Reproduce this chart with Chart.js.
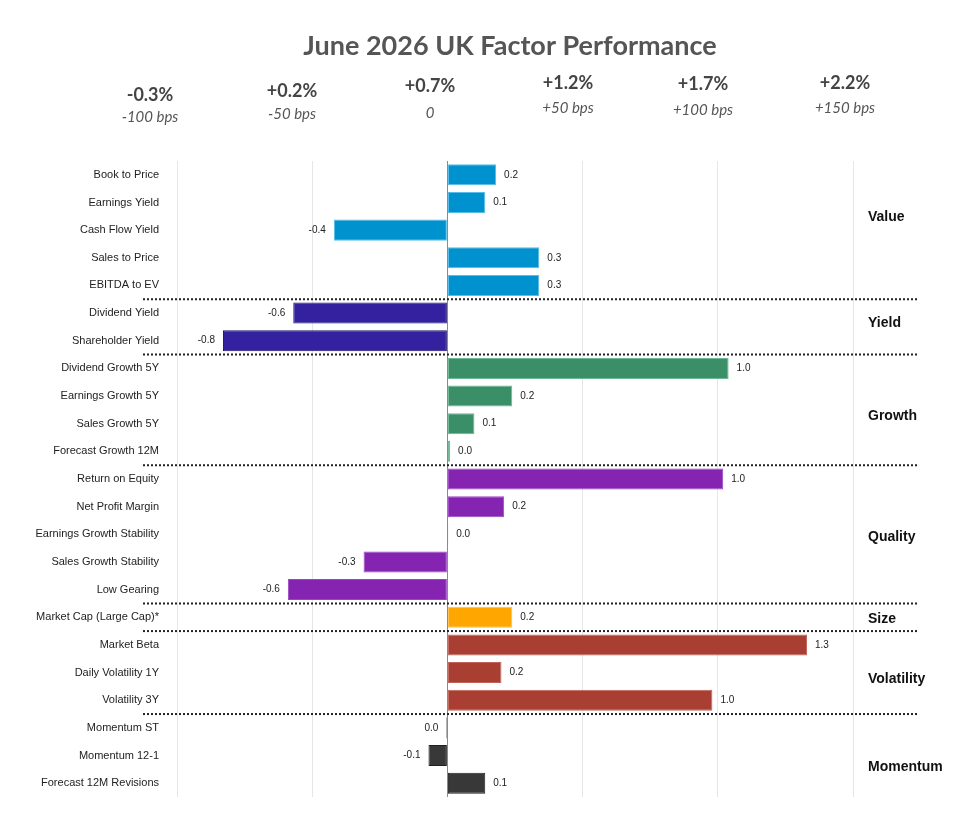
<!DOCTYPE html>
<html>
<head>
<meta charset="utf-8">
<script src="https://cdn.jsdelivr.net/npm/chart.js@4/dist/chart.umd.min.js"></script>
<style>
  html, body { margin: 0; padding: 0; background: #fff; }
  #wrap { width: 980px; height: 830px; position: relative; }
</style>
</head>
<body>
<div id="wrap"><canvas id="factorChart"></canvas></div>
<script>
// Data
const categories = [
  "Book to Price", "Earnings Yield", "Cash Flow Yield", "Sales to Price", "EBITDA to EV",
  "Dividend Yield", "Shareholder Yield",
  "Dividend Growth 5Y", "Earnings Growth 5Y", "Sales Growth 5Y", "Forecast Growth 12M",
  "Return on Equity", "Net Profit Margin", "Earnings Growth Stability", "Sales Growth Stability", "Low Gearing",
  "Market Cap (Large Cap)*",
  "Market Beta", "Daily Volatility 1Y", "Volatility 3Y",
  "Momentum ST", "Momentum 12-1", "Forecast 12M Revisions"
];
const values = [
  0.18, 0.14, -0.42, 0.34, 0.34,
  -0.57, -0.83,
  1.04, 0.24, 0.10, 0.01,
  1.02, 0.21, 0.003, -0.31, -0.59,
  0.24,
  1.33, 0.20, 0.98,
  -0.004, -0.07, 0.14
];
const groupNames = ["Value", "Yield", "Growth", "Quality", "Size", "Volatility", "Momentum"];
const groupSizes = [5, 2, 4, 5, 1, 3, 3];
const groupColors = ["#0092CE", "#3321A0", "#3A8F68", "#8424B0", "#FFA600", "#A93F32", "#383838"];
const groupBorders = ["#55BDE6", "#1E1270", "#6FB795", "#9A45C4", "#FFC04D", "#C0645A", "#202020"];
const xTicks = [-1, -0.5, 0, 0.5, 1, 1.5];
const headerPct = ["-0.3%", "+0.2%", "+0.7%", "+1.2%", "+1.7%", "+2.2%"];
const headerBps = ["-100 bps", "-50 bps", "0", "+50 bps", "+100 bps", "+150 bps"];

// per-bar colours from groups
const barColors = [];
const barBorders = [];
groupSizes.forEach(function (n, g) {
  for (let i = 0; i < n; i++) {
    barColors.push(groupColors[g]);
    barBorders.push(groupBorders[g]);
  }
});

function fmt(v) {
  if (Math.abs(v) < 0.05) return "0.0";
  return v.toFixed(1);
}

// title + header labels
const headerPlugin = {
  id: "header",
  afterDraw: function (chart) {
    const ctx = chart.ctx;
    ctx.save();
    ctx.fillStyle = "#555";
    ctx.font = "bold 27px Lato";
    ctx.textAlign = "center";
    ctx.textBaseline = "middle";
    ctx.fillText("June 2026 UK Factor Performance", 510, 46);
    const xs = [150, 292, 430, 568, 703, 845];
    const yPct = [95, 91, 86, 83, 84, 83];
    const yBps = [117, 114, 113, 108, 110, 108];
    headerPct.forEach(function (t, i) {
      ctx.fillStyle = "#444";
      ctx.font = "bold 18px Lato";
      ctx.fillText(t, xs[i], yPct[i]);
      ctx.fillStyle = "#555";
      ctx.font = "italic 15px Lato";
      ctx.fillText(headerBps[i], xs[i], yBps[i]);
    });
    ctx.restore();
  },
};

// value labels, group separators and names
const groupPlugin = {
  id: "groups",
  afterDatasetsDraw: function (chart) {
    const ctx = chart.ctx;
    const x = chart.scales.x;
    const y = chart.scales.y;
    const nameShift = [-13, -4, 6, 3, 2, 7, 12];
    ctx.save();
    // value labels
    ctx.font = "10px 'Liberation Sans'";
    ctx.fillStyle = "#222";
    ctx.textBaseline = "middle";
    values.forEach(function (v, i) {
      const px = x.getPixelForValue(v);
      const py = y.getPixelForValue(i);
      if (v < 0) {
        ctx.textAlign = "right";
        ctx.fillText(fmt(v), px - 8, py);
      } else {
        ctx.textAlign = "left";
        ctx.fillText(fmt(v), px + 8, py);
      }
    });
    // separators + group names
    let start = 0;
    groupSizes.forEach(function (n, g) {
      const end = start + n - 1;
      const mid = (y.getPixelForValue(start) + y.getPixelForValue(end)) / 2;
      ctx.font = "bold 14px 'Liberation Sans'";
      ctx.fillStyle = "#111";
      ctx.textAlign = "left";
      ctx.fillText(groupNames[g], 868, mid + nameShift[g]);
      if (g < groupSizes.length - 1) {
        const sy = (y.getPixelForValue(end) + y.getPixelForValue(end + 1)) / 2;
        ctx.beginPath();
        ctx.setLineDash([2, 2]);
        ctx.lineWidth = 2;
        ctx.strokeStyle = "#222";
        ctx.moveTo(143, sy);
        ctx.lineTo(917, sy);
        ctx.stroke();
        ctx.setLineDash([]);
      }
      start += n;
    });
    ctx.restore();
  },
};

const ctx = document.getElementById("factorChart").getContext("2d");
new Chart(ctx, {
  type: "bar",
  data: {
    labels: categories,
    datasets: [
      {
        data: values,
        backgroundColor: barColors,
        borderColor: barBorders,
        borderWidth: 1,
        borderSkipped: false,
        barPercentage: 1,
        categoryPercentage: 0.76,
      },
    ],
  },
  options: {
    indexAxis: "y",
    responsive: true,
    maintainAspectRatio: false,
    animation: false,
    layout: { padding: { top: 161, right: 127, bottom: 33, left: 0 } },
    plugins: {
      legend: { display: false },
      tooltip: { enabled: false },
    },
    scales: {
      x: {
        min: -1,
        max: 1.5,
        afterBuildTicks: function (scale) {
          scale.ticks = xTicks.map(function (v) { return { value: v }; });
        },
        ticks: { display: false },
        border: { display: false },
        grid: {
          drawTicks: false,
          color: function (c) {
            return c.tick && c.tick.value === 0 ? "#8a8a8a" : "#e6e6e6";
          },
          lineWidth: 1,
        },
      },
      y: {
        afterFit: function (scale) { scale.width = 177; },
        ticks: {
          autoSkip: false,
          padding: 10,
          color: "#222",
          font: { family: "'Liberation Sans'", size: 11 },
        },
        grid: { display: false },
        border: { display: false },
      },
    },
  },
  plugins: [headerPlugin, groupPlugin],
});
</script>
</body>
</html>
